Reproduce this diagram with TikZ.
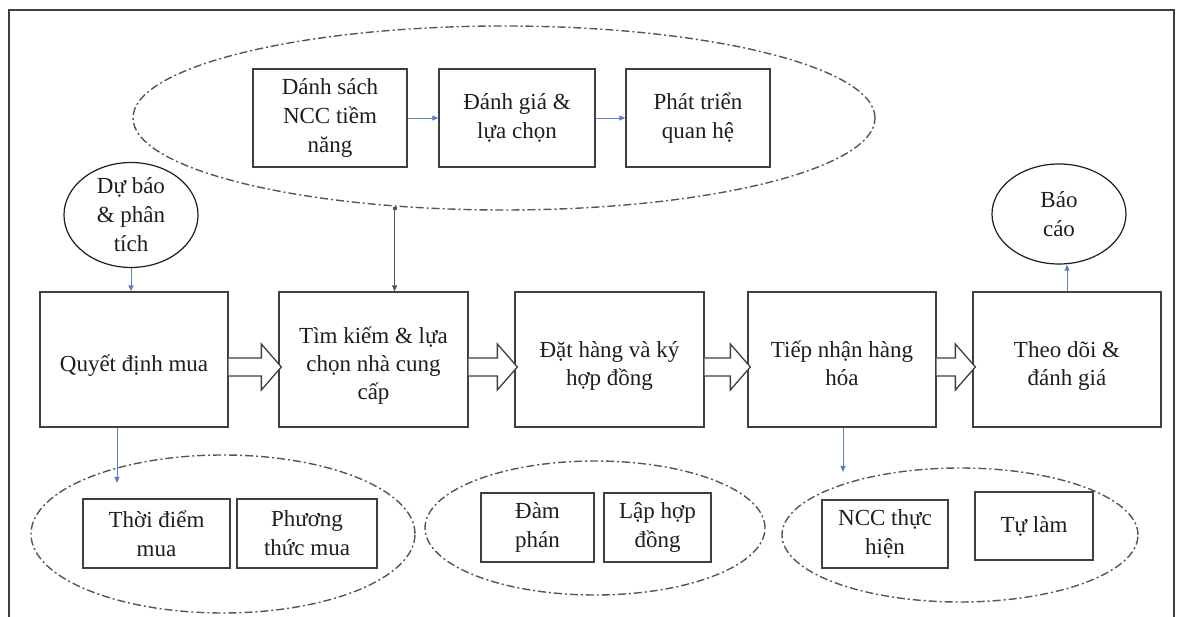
\documentclass[tikz,border=0pt]{standalone}
\usepackage{fontspec}
\setmainfont{Liberation Serif}
\usetikzlibrary{arrows.meta,calc,shapes.geometric}
\definecolor{edge}{HTML}{404040}
\definecolor{ring}{HTML}{555555}
\definecolor{linkc}{HTML}{5B7FBF}
\definecolor{ink}{HTML}{1E1E1E}
% step labels sit a little below the middle of their boxes
\newcommand{\sinktext}[1]{\raisebox{-6pt}[\height][\depth]{\begin{tabular}{@{}c@{}}#1\end{tabular}}}
\begin{document}
\begin{tikzpicture}[x=1pt,y=-1pt,
  every node/.style={font=\fontsize{23}{29}\selectfont, text=ink, align=center, inner sep=0pt},
  box/.style={draw=edge, line width=1.3pt, fill=white},
  stepbox/.style={box, font=\fontsize{23}{28}\selectfont, minimum height=135},
  oval/.style={ellipse, draw=ink, line width=1.2pt},
  group/.style={ellipse, draw=ring, line width=1.4pt, dash pattern=on 8pt off 3pt on 2pt off 3pt},
  link/.style={draw=linkc, line width=0.9pt, -{Triangle[length=6pt,width=5pt]}},
  hollow/.style={draw=edge, line width=1.3pt, fill=white, line join=miter}]
\useasboundingbox (0,0) rectangle (1179,617);

% outer frame, open at the bottom
\draw[edge, line width=1.6pt] (9,625) -- (9,10) -- (1174,10) -- (1174,625);

% supplier group at the top
\node[group, minimum width=742, minimum height=184] (topgrp) at (504,118) {};
\node[box, minimum width=154, minimum height=98] (ts1) at (330,118) {Dánh sách\\NCC tiềm\\năng};
\node[box, minimum width=156, minimum height=98] (ts2) at (517,118) {Đánh giá \&\\lựa chọn};
\node[box, minimum width=144, minimum height=98] (ts3) at (698,118) {Phát triển\\quan hệ};
\draw[link] (ts1) -- (ts2);
\draw[link] (ts2) -- (ts3);

% side ovals
\node[oval, minimum width=134, minimum height=100] (db) at (131,215) {Dự báo\\\& phân\\tích};
\node[oval, minimum width=134, minimum height=100] (bc) at (1059,214) {Báo\\cáo};

% main process chain
\node[stepbox, minimum width=188] (m1) at (134,359.5) {\sinktext{Quyết định mua}};
\node[stepbox, minimum width=189] (m2) at (373.5,359.5) {\sinktext{Tìm kiếm \& lựa\\chọn nhà cung\\cấp}};
\node[stepbox, minimum width=189] (m3) at (609.5,359.5) {\sinktext{Đặt hàng và ký\\hợp đồng}};
\node[stepbox, minimum width=188] (m4) at (842,359.5) {\sinktext{Tiếp nhận hàng\\hóa}};
\node[stepbox, minimum width=188] (m5) at (1067,359.5) {\sinktext{Theo dõi \&\\đánh giá}};

% block arrows between the steps
\foreach \a/\b in {m1/m2, m2/m3, m3/m4, m4/m5}{
  \draw[hollow] ($(\a.east)+(0,-1.5)$) -- ($(\b.west)+(-17,-1.5)$)
     -- ($(\b.west)+(-17,-15.5)$) -- ($(\b.west)+(3,7.5)$)
     -- ($(\b.west)+(-17,30.5)$) -- ($(\b.west)+(-17,16.5)$)
     -- ($(\a.east)+(0,16.5)$);
}

% thin links
\draw[link] (db.south) -- (db.south |- m1.north);
\draw[link] (m5.north) -- (m5.north |- bc.south);
\draw[draw=ring, line width=1.1pt, {Square[length=3pt,width=4pt]}-{Triangle[length=6pt,width=5pt]}]
  (topgrp.219.7) -- (m2.north -| topgrp.219.7);

% groups below the chain
\node[group, minimum width=384, minimum height=158] (lgrp) at (223,534) {};
\node[box, minimum width=147, minimum height=69] (b1) at (156.5,533.5) {Thời điểm\\mua};
\node[box, minimum width=140, minimum height=69] (b2) at (307,533.5) {Phương\\thức mua};

\node[group, minimum width=340, minimum height=134] (mgrp) at (595,528) {};
\node[box, minimum width=113, minimum height=69] (b3) at (537.5,527.5) {Đàm\\phán};
\node[box, minimum width=107, minimum height=69] (b4) at (657.5,527.5) {Lập hợp\\đồng};

\node[group, minimum width=356, minimum height=134] (rgrp) at (960,535) {};
\node[box, minimum width=126, minimum height=68] (b5) at (885,534) {NCC thực\\hiện};
\node[box, minimum width=118, minimum height=68] (b6) at (1034,526) {Tự làm};

\coordinate (lin) at (117,483);
\coordinate (rin) at (843,472);
\draw[link] (lin |- m1.south) -- (lin);
\draw[link] (rin |- m4.south) -- (rin);
\end{tikzpicture}
\end{document}
